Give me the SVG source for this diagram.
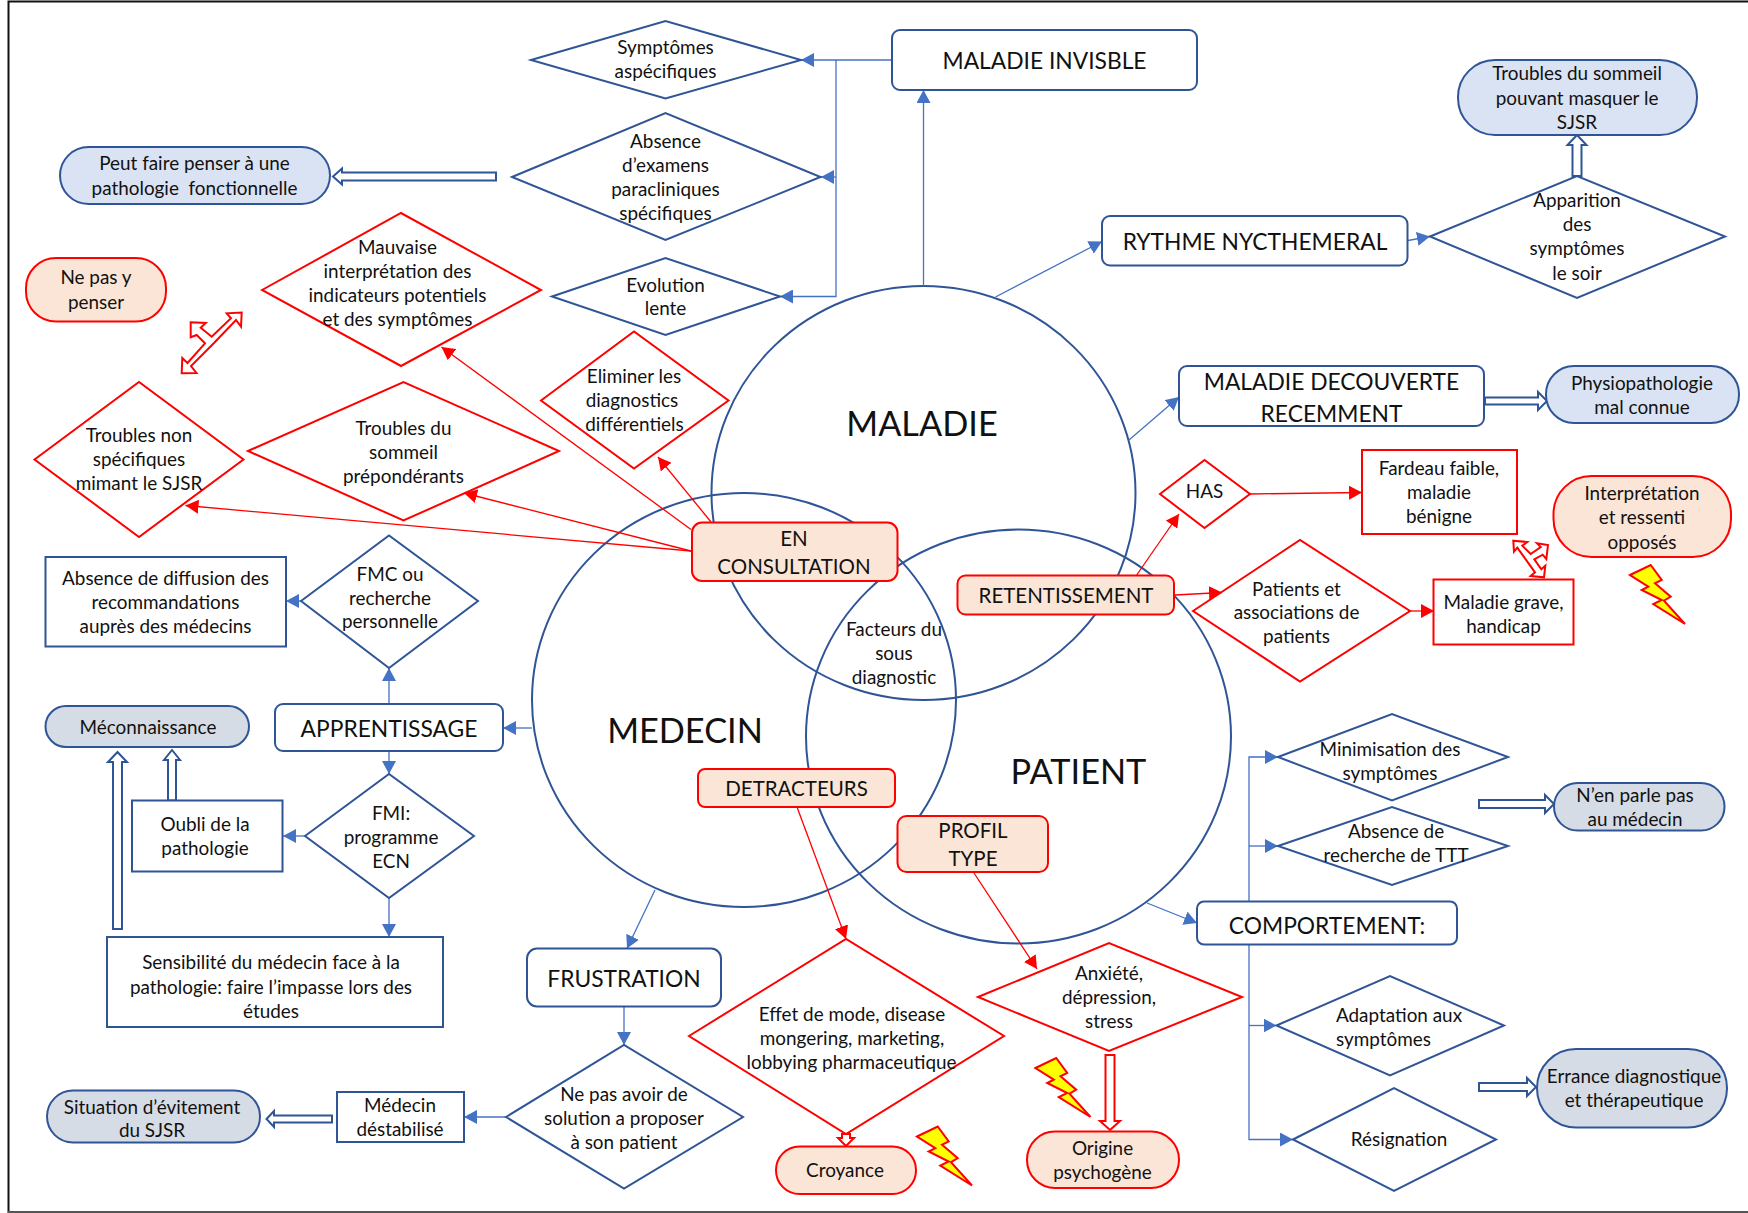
<svg xmlns="http://www.w3.org/2000/svg" width="1748" height="1213" viewBox="0 0 1748 1213">
<style>
text{font-family:"Lato","Carlito","Liberation Sans",sans-serif;font-size:18.9px;fill:#111;text-anchor:middle;white-space:pre}
.b{font-size:22.8px}.c{font-size:20.5px}.h{font-size:34.3px}
.n{fill:#fff;stroke:#2F5597;stroke-width:2}
.r{fill:#fff;stroke:#f00;stroke-width:2}
.nf{fill:none;stroke:#2F5597;stroke-width:2}
.rf{fill:none;stroke:#f00;stroke-width:2}
.pb{fill:#DAE3F3;stroke:#2F5597;stroke-width:2}
.pg{fill:#D6DCE5;stroke:#2F5597;stroke-width:2}
.po{fill:#FBE5D6;stroke:#f00;stroke-width:2}
.lb{fill:none;stroke:#4472C4;stroke-width:1.3}
.lr{fill:none;stroke:#f00;stroke-width:1.3}
.hb{fill:#fff;stroke:#2F5597;stroke-width:2}
.hr{fill:#fff;stroke:#f00;stroke-width:2}
.bolt{fill:#ff0;stroke:#f00;stroke-width:2}
</style>
<defs>
<marker id="ab" markerUnits="userSpaceOnUse" markerWidth="14" markerHeight="14" refX="13" refY="7" orient="auto"><path d="M0 0L13 7L0 14Z" fill="#4472C4"/></marker>
<marker id="ar" markerUnits="userSpaceOnUse" markerWidth="14" markerHeight="14" refX="13" refY="7" orient="auto"><path d="M0 0L13 7L0 14Z" fill="#f00"/></marker>
<polygon id="bolt" points="0,10 20.7,0 31.7,15 25,18.3 40.7,31.7 34,35.7 55,59 23.3,39 31.7,35 11.7,25 18.3,21.7"/>
</defs>
<rect width="1748" height="1213" fill="#fff"/>
<g id="frame"><path d="M8.5 1213V1.5H1748" fill="none" stroke="#111" stroke-width="2"/><path d="M8 1212H1748" stroke="#555" stroke-width="2"/></g>

<g id="circles">
<ellipse id="circle-maladie" class="nf" cx="923.5" cy="493" rx="212" ry="207"/>
<ellipse id="circle-medecin" class="nf" cx="744" cy="700" rx="212" ry="207"/>
<ellipse id="circle-patient" class="nf" cx="1018.5" cy="736.5" rx="212.5" ry="207"/>
</g>

<g id="connectors">
<path class="lb" d="M892 60H801" marker-end="url(#ab)"/>
<path class="lb" d="M836 60V296.5H780" marker-end="url(#ab)"/>
<path class="lb" d="M836 177H821" marker-end="url(#ab)"/>
<path class="lb" d="M923.5 286V90" marker-end="url(#ab)"/>
<path class="lb" d="M995.5 297L1102 241.5" marker-end="url(#ab)"/>
<path class="lb" d="M1408 240.5L1430 236.5" marker-end="url(#ab)"/>
<path class="lb" d="M1129 440L1179 397" marker-end="url(#ab)"/>
<path class="lb" d="M532 728H503" marker-end="url(#ab)"/>
<path class="lb" d="M389 704V668" marker-end="url(#ab)"/>
<path class="lb" d="M389 751V774" marker-end="url(#ab)"/>
<path class="lb" d="M301 601H286" marker-end="url(#ab)"/>
<path class="lb" d="M305 836H283" marker-end="url(#ab)"/>
<path class="lb" d="M389 898V937" marker-end="url(#ab)"/>
<path class="lb" d="M655 890L627 948.5" marker-end="url(#ab)"/>
<path class="lb" d="M624 1006.5V1045" marker-end="url(#ab)"/>
<path class="lb" d="M506 1117H464" marker-end="url(#ab)"/>
<path class="lb" d="M1147 903L1197 923" marker-end="url(#ab)"/>
<path class="lb" d="M1249 902V757H1278" marker-end="url(#ab)"/>
<path class="lb" d="M1249 846H1278" marker-end="url(#ab)"/>
<path class="lb" d="M1249 944V1139.5H1293" marker-end="url(#ab)"/>
<path class="lb" d="M1249 1025.5H1276.5" marker-end="url(#ab)"/>
<path class="lr" d="M691 529.5L441.5 347" marker-end="url(#ar)"/>
<path class="lr" d="M711 522L658 457" marker-end="url(#ar)"/>
<path class="lr" d="M691 551L464 493" marker-end="url(#ar)"/>
<path class="lr" d="M691 551L185.5 505.5" marker-end="url(#ar)"/>
<path class="lr" d="M1136 576L1179 514" marker-end="url(#ar)"/>
<path class="lr" d="M1175 595L1222 592.5" marker-end="url(#ar)"/>
<path class="lr" d="M1250 494L1362 492.5" marker-end="url(#ar)"/>
<path class="lr" d="M1410 611H1434" marker-end="url(#ar)"/>
<path class="lr" d="M797 807L846 939" marker-end="url(#ar)"/>
<path class="lr" d="M974 873L1037 969" marker-end="url(#ar)"/>
<polygon class="hb" points="333,176.5 342,168.5 342,172.5 496,172.5 496,180.5 342,180.5 342,184.5"/>
<polygon class="hb" points="1577,135 1586.5,145 1581.5,145 1581.5,176 1572.5,176 1572.5,145 1567.5,145"/>
<polygon class="hb" points="1547,401 1538,392 1538,397.5 1485,397.5 1485,404.5 1538,404.5 1538,410"/>
<polygon class="hb" points="266.5,1119 274,1111 274,1115.5 332,1115.5 332,1122.5 274,1122.5 274,1127"/>
<polygon class="hb" points="117.5,752 127,762 122,762 122,929 113,929 113,762 108,762"/>
<polygon class="hb" points="172,750 180,760 176,760 176,800.5 168,800.5 168,760 164,760"/>
<polygon class="hb" points="1554,804 1545,795 1545,800 1479,800 1479,808 1545,808 1545,813"/>
<polygon class="hb" points="1536,1087 1527,1078 1527,1083 1479,1083 1479,1091 1527,1091 1527,1096"/>
<polygon class="hr" points="846,1146 854,1138 850,1138 850,1134 842,1134 842,1138 838,1138"/>
<polygon class="hr" points="1110,1130 1120,1121 1114.5,1121 1114.5,1055 1105.5,1055 1105.5,1121 1100,1121"/>
<polygon class="hr" points="241.7,312.5 241,326.7 236,320 214,343 191,366 196.5,373 181.7,373.3 182.3,358 187.5,363 205,343.3 196.7,335 190.7,337.3 190.7,322.3 205.7,323 200.7,327.7 211.7,336.7 231,318.3 226.7,313.3"/>
<polygon class="hr" points="1513.3,540.7 1527.3,542 1522.3,545.7 1530.7,554 1540.7,547 1537,543.3 1548,545 1546.3,559 1542.7,554.7 1534.3,559.3 1541.3,569.3 1545.3,565.7 1544,577.3 1530.7,576 1535,572.3 1517.3,547.7 1514,551.7"/>
</g>

<g id="bolts">
<use href="#bolt" class="bolt" x="1630" y="565"/>
<use href="#bolt" class="bolt" x="1035.5" y="1058"/>
<use href="#bolt" class="bolt" x="917" y="1126.5"/>
</g>

<g id="n-symptomes"><polygon class="nf" points="531,60 665.5,21 801,60 665.5,98.5"/><text x="665.5" y="54">Symptômes</text><text x="665.5" y="78">aspécifiques</text></g>
<g id="n-examens"><polygon class="nf" points="512,177 665.5,113 820.5,177 665.5,240"/><text x="665.5" y="148">Absence</text><text x="665.5" y="172">d’examens</text><text x="665.5" y="196">paracliniques</text><text x="665.5" y="220">spécifiques</text></g>
<g id="n-evolution"><polygon class="nf" points="552,296.5 665.5,258 780,296.5 665.5,335"/><text x="665.5" y="291.5">Evolution</text><text x="665.5" y="315">lente</text></g>
<g id="n-fonctionnelle"><rect class="pb" x="60" y="147" width="270" height="57" rx="28.5"/><text x="194.5" y="170">Peut faire penser à une</text><text x="194.5" y="195">pathologie  fonctionnelle</text></g>
<g id="n-invisible"><rect class="n" x="892" y="30" width="305" height="60" rx="8"/><text class="b" x="1044.5" y="69">MALADIE INVISBLE</text></g>
<g id="n-sommeil-masque"><rect class="pb" x="1458" y="60" width="239" height="75" rx="37"/><text x="1577" y="80">Troubles du sommeil</text><text x="1577" y="104.5">pouvant masquer le</text><text x="1577" y="129">SJSR</text></g>
<g id="n-rythme"><rect class="n" x="1102" y="216" width="305.5" height="49.5" rx="8"/><text class="b" x="1255" y="250">RYTHME NYCTHEMERAL</text></g>
<g id="n-apparition"><polygon class="nf" points="1430,236.5 1577,176 1725,236.5 1577,298"/><text x="1577" y="207">Apparition</text><text x="1577" y="231">des</text><text x="1577" y="255">symptômes</text><text x="1577" y="279.5">le soir</text></g>
<g id="n-decouverte"><rect class="n" x="1179" y="366" width="305" height="60" rx="8"/><text class="b" x="1331.5" y="389.5">MALADIE DECOUVERTE</text><text class="b" x="1331.5" y="422">RECEMMENT</text></g>
<g id="n-physio"><rect class="pb" x="1546" y="366" width="193" height="57" rx="28"/><text x="1642" y="389.5">Physiopathologie</text><text x="1642" y="414">mal connue</text></g>
<g id="n-penser"><rect class="po" x="26" y="258" width="140" height="63.5" rx="30"/><text x="96" y="284">Ne pas y</text><text x="96" y="308.5">penser</text></g>
<g id="n-mauvaise"><polygon class="rf" points="262,290 401,213 541,290 401,366"/><text x="397.5" y="254">Mauvaise</text><text x="397.5" y="278">interprétation des</text><text x="397.5" y="302">indicateurs potentiels</text><text x="397.5" y="326">et des symptômes</text></g>
<g id="n-eliminer"><polygon class="rf" points="541,400.5 634,331.5 728.5,400.5 634,468.5"/><text x="634" y="383">Eliminer les</text><text x="632" y="407">diagnostics</text><text x="634.5" y="431">différentiels</text></g>
<g id="n-prepond"><polygon class="rf" points="248,451 403.5,382 559,451 403.5,520.5"/><text x="403.5" y="434.5">Troubles du</text><text x="403.5" y="458.5">sommeil</text><text x="403.5" y="482.5">prépondérants</text></g>
<g id="n-nonspec"><polygon class="rf" points="34.5,459.5 139,382 243.5,459.5 139,537"/><text x="139" y="441.5">Troubles non</text><text x="139" y="465.5">spécifiques</text><text x="139" y="489.5">mimant le SJSR</text></g>
<g id="n-consultation"><rect class="po" x="692" y="522.5" width="205.5" height="58.5" rx="10"/><text class="c" x="794" y="546">EN</text><text class="c" x="794" y="574">CONSULTATION</text></g>
<g id="n-has"><polygon class="rf" points="1160,494 1204.5,460 1250,494 1204.5,528"/><text x="1204.5" y="498">HAS</text></g>
<g id="n-fardeau"><rect class="r" x="1362" y="450" width="155" height="84"/><text x="1439" y="475">Fardeau faible,</text><text x="1439" y="499">maladie</text><text x="1439" y="523">bénigne</text></g>
<g id="n-interpretation"><rect class="po" x="1553.5" y="476" width="177.5" height="81" rx="38"/><text x="1642" y="500">Interprétation</text><text x="1642" y="524">et ressenti</text><text x="1642" y="548.5">opposés</text></g>
<g id="n-retentissement"><rect class="po" x="957.5" y="575.5" width="216.5" height="39" rx="8"/><text class="c" x="1066" y="603">RETENTISSEMENT</text></g>
<g id="n-patients"><polygon class="rf" points="1193,611 1300,540 1410,611 1300,681.5"/><text x="1296.5" y="595.5">Patients et</text><text x="1296.5" y="619">associations de</text><text x="1296.5" y="643">patients</text></g>
<g id="n-grave"><rect class="r" x="1433.5" y="579.5" width="140" height="65"/><text x="1503.5" y="609">Maladie grave,</text><text x="1503.5" y="632.5">handicap</text></g>
<g id="n-facteurs"><text x="894" y="636">Facteurs du</text><text x="894" y="660">sous</text><text x="894" y="684">diagnostic</text></g>
<g id="n-maladie"><text class="h" x="922" y="436">MALADIE</text></g>
<g id="n-medecin"><text class="h" x="685" y="743">MEDECIN</text></g>
<g id="n-patient"><text class="h" x="1078.5" y="783.5">PATIENT</text></g>
<g id="n-diffusion"><rect class="n" x="45.5" y="557" width="240.5" height="89.5"/><text x="165.5" y="585">Absence de diffusion des</text><text x="165.5" y="609">recommandations</text><text x="165.5" y="633">auprès des médecins</text></g>
<g id="n-fmc"><polygon class="nf" points="301,601 389,535.5 478,601 389,668"/><text x="390" y="580.5">FMC ou</text><text x="390" y="604.5">recherche</text><text x="390" y="628">personnelle</text></g>
<g id="n-apprentissage"><rect class="n" x="275" y="704" width="228" height="47" rx="8"/><text class="b" x="389" y="736.5">APPRENTISSAGE</text></g>
<g id="n-meconnaissance"><rect class="pg" x="45.5" y="706" width="203.5" height="41" rx="20.5"/><text x="148" y="734">Méconnaissance</text></g>
<g id="n-oubli"><rect class="n" x="132" y="800.5" width="150.5" height="71"/><text x="205" y="830.5">Oubli de la</text><text x="205" y="855">pathologie</text></g>
<g id="n-fmi"><polygon class="nf" points="305,836 389,774 474,836 389,898"/><text x="391" y="820">FMI:</text><text x="391" y="844">programme</text><text x="391" y="868">ECN</text></g>
<g id="n-sensibilite"><rect class="n" x="107" y="937" width="336" height="90"/><text x="271" y="968.5">Sensibilité du médecin face à la</text><text x="271" y="993.5">pathologie: faire l’impasse lors des</text><text x="271" y="1017.5">études</text></g>
<g id="n-frustration"><rect class="n" x="527" y="948.5" width="194" height="58" rx="10"/><text class="b" x="624" y="986.5">FRUSTRATION</text></g>
<g id="n-solution"><polygon class="nf" points="506,1117 624,1045 743,1117 624,1188.5"/><text x="624" y="1101">Ne pas avoir de</text><text x="624" y="1125">solution a proposer</text><text x="624" y="1149">à son patient</text></g>
<g id="n-destabilise"><rect class="n" x="337" y="1092" width="127" height="50"/><text x="400" y="1112">Médecin</text><text x="400" y="1136">déstabilisé</text></g>
<g id="n-evitement"><rect class="pg" x="47" y="1090.5" width="213" height="52" rx="26"/><text x="152" y="1113.5">Situation d’évitement</text><text x="152" y="1137">du SJSR</text></g>
<g id="n-detracteurs"><rect class="po" x="698" y="769" width="197" height="38" rx="7"/><text class="c" x="796.5" y="795.5">DETRACTEURS</text></g>
<g id="n-effet"><polygon class="rf" points="689,1036 846,939 1004,1036 846,1134"/><text x="852" y="1021">Effet de mode, disease</text><text x="852" y="1045">mongering, marketing,</text><text x="851.5" y="1069">lobbying pharmaceutique</text></g>
<g id="n-croyance"><rect class="po" x="776" y="1146.5" width="140" height="47.5" rx="23.5"/><text x="845" y="1177">Croyance</text></g>
<g id="n-profil"><rect class="po" x="897.5" y="816" width="150.5" height="56" rx="9"/><text class="c" x="973" y="837.5">PROFIL</text><text class="c" x="973" y="866">TYPE</text></g>
<g id="n-anxiete"><polygon class="rf" points="978,997 1109,943 1242,997 1109,1051"/><text x="1109" y="980">Anxiété,</text><text x="1109" y="1004">dépression,</text><text x="1109" y="1028">stress</text></g>
<g id="n-origine"><rect class="po" x="1027" y="1131.5" width="152" height="56.5" rx="28"/><text x="1102.5" y="1155">Origine</text><text x="1102.5" y="1179">psychogène</text></g>
<g id="n-comportement"><rect class="n" x="1197" y="901.5" width="260" height="43" rx="7"/><text class="b" x="1327" y="934">COMPORTEMENT:</text></g>
<g id="n-minimisation"><polygon class="nf" points="1278,757 1392,714 1508,757 1392,800.5"/><text x="1390" y="756">Minimisation des</text><text x="1390" y="780">symptômes</text></g>
<g id="n-recherche"><polygon class="nf" points="1278,846 1392,807 1508,846 1392,885"/><text x="1396" y="838">Absence de</text><text x="1396" y="862">recherche de TTT</text></g>
<g id="n-adaptation"><polygon class="nf" points="1276.5,1025.5 1390,976 1504,1025.5 1390,1075.5"/><text x="1399" y="1022">Adaptation aux</text><text x="1383.5" y="1046">symptômes</text></g>
<g id="n-resignation"><polygon class="nf" points="1293,1139.5 1394,1088 1496,1139.5 1394,1191"/><text x="1399" y="1146">Résignation</text></g>
<g id="n-parle"><rect class="pg" x="1554" y="783" width="170.5" height="47.5" rx="23.5"/><text x="1635" y="802">N’en parle pas</text><text x="1635" y="826">au médecin</text></g>
<g id="n-errance"><rect class="pg" x="1537" y="1049" width="190" height="78.5" rx="39"/><text x="1634" y="1083">Errance diagnostique</text><text x="1634" y="1107">et thérapeutique</text></g>
</svg>
